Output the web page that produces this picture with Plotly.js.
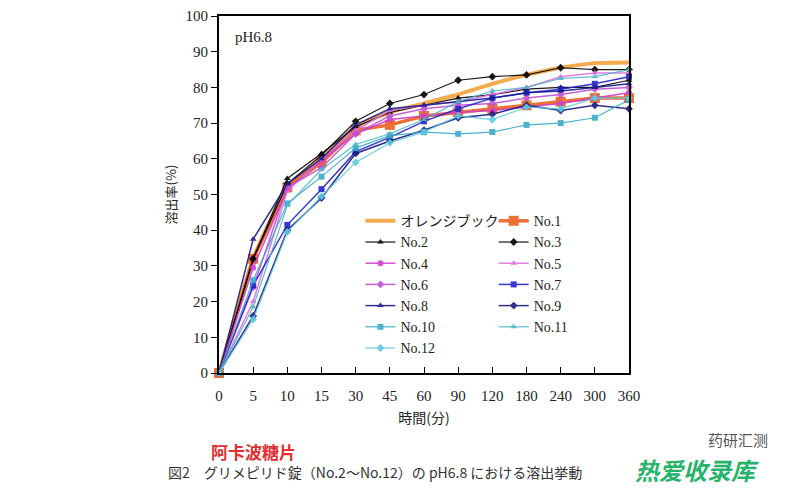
<!DOCTYPE html>
<html>
<head>
<meta charset="utf-8">
<script src="https://cdn.plot.ly/plotly-3.0.1.min.js"></script>
<style>html,body{margin:0;padding:0;background:#fff;}#chart{width:800px;height:489px;}</style>
</head>
<body>
<div id="chart"></div>
<script>
const timeLabels = ["0","5","10","15","30","45","60","90","120","180","240","300","360"];
const seriesNames = ["オレンジブック","No.1","No.2","No.3","No.4","No.5","No.6","No.7","No.8","No.9","No.10","No.11","No.12"];
const orangeBook = [0,32,52,60,69,73,75.5,78,81,83.5,85.5,86.8,87];
const no1  = [0,32,52,59,68,69.5,72,73,74,75,76,77,77];
const no2  = [0,32,54.5,61.5,69,73,75,77,78,79.5,80,80,82];
const no3  = [0,32,53,61,70.5,75.5,78,82,83,83.5,85.5,85,85];
const no4  = [0,29.5,51.5,59.5,67,71,72,73,73.5,74.5,75.5,77,78.5];
const no5  = [0,20,51,60,68,73.5,75,76,78,80,83,84,84];
const no6  = [0,24,52,57.5,67,72,74,75,75.5,77,78,79.5,80];
const no7  = [0,24.5,41.5,51.5,62,66,70.5,74,77,78.5,79.5,81,83];
const no8  = [0,37.5,53,60,69.5,74,75,76,77,78.5,79,80,81];
const no9  = [0,16,40,49,61.5,65,68,71.5,72.5,75,73.5,75,74];
const no10 = [0,26,47.5,55,63,66.5,67.5,67,67.5,69.5,70,71.5,76.5];
const no11 = [0,18.5,47,57,64,67,71,76,79,80,82.5,83,85];
const no12 = [0,15,39.5,49.5,59,64.5,67.5,72,71,74.5,74,77,77];

const allValues = [orangeBook,no1,no2,no3,no4,no5,no6,no7,no8,no9,no10,no11,no12];
const colors = ["#F2A33A","#E8621E","#000000","#000000","#D23CD2","#E070E0","#C050D0","#2323CC","#1A1A90","#1A1A80","#3AAAC8","#4CB8C8","#5CCBE0"];
const symbols = ["circle","square","triangle-up","diamond","circle","triangle-up","diamond","square","triangle-up","diamond","square","triangle-up","diamond"];
const widths = [4,3.5,1.2,1.2,1.5,1.5,1.5,1.5,1.5,1.5,1.2,1.2,1.2];
const msizes = [0,10,6,6,6,6,6,6,6,6,6,6,6];
const legendCol = ["legend","legend2","legend","legend2","legend","legend2","legend","legend2","legend","legend2","legend","legend2","legend"];

const traces = seriesNames.map((name,i)=>({
  type:"scatter",
  mode: i===0 ? "lines" : "lines+markers",
  x: timeLabels, y: allValues[i], name: name,
  legend: legendCol[i],
  cliponaxis:false,
  line:{color:colors[i], width:widths[i], shape: i===0 ? "spline" : "linear", smoothing:0.5},
  marker:{symbol:symbols[i], size:msizes[i], color:colors[i]},
  opacity: 0.9
}));

const serif = "'Liberation Serif', 'Times New Roman', 'DejaVu Serif', serif";
const legendBase = {
  font:{family:"'Liberation Serif', 'Noto Sans CJK JP', serif",size:14,color:"#222"},
  bgcolor:"rgba(0,0,0,0)",
  yanchor:"top", xanchor:"left",
  tracegroupgap:0, itemwidth:30,
  traceorder:"normal"
};

const layout = {
  width:800, height:489,
  margin:{l:219,r:171,t:16,b:116},
  paper_bgcolor:"#fff", plot_bgcolor:"#fff",
  showlegend:true,
  xaxis:{type:"category", range:[0,12], showgrid:false, zeroline:false,
    showline:true, linecolor:"#000", linewidth:2, mirror:true,
    ticks:"inside", ticklen:6, tickcolor:"#000", ticklabelstandoff:8,
    tickfont:{family:serif,size:15,color:"#222"},
    title:{text:"時間(分)", font:{family:"'Noto Sans CJK JP'",size:14,color:"#222"}, standoff:10}},
  yaxis:{range:[0,100], dtick:10, showgrid:false, zeroline:false,
    showline:true, linecolor:"#000", linewidth:2, mirror:true,
    ticks:"outside", ticklen:6, tickcolor:"#000",
    tickfont:{family:serif,size:15,color:"#222"},
    title:{text:"溶出率(%)", font:{family:"'Noto Sans CJK JP'",size:13,color:"#222"}, standoff:6}},
  legend: Object.assign({}, legendBase, {x:0.345, y:0.47}),
  legend2: Object.assign({}, legendBase, {x:0.67, y:0.47}),
  annotations:[
    {text:"pH6.8", xref:"paper", yref:"paper", x:0.035, y:0.97, xanchor:"left", yanchor:"top", showarrow:false, font:{family:serif,size:15,color:"#222"}},
    {text:"<b>阿卡波糖片</b>", xref:"paper", yref:"paper", x:-0.025, y:-0.221, xanchor:"left", yanchor:"middle", showarrow:false, font:{family:"'Noto Sans CJK SC'",size:17,color:"#E03030"}},
    {text:"図2　グリメピリド錠（No.2〜No.12）の pH6.8 における溶出挙動", xref:"paper", yref:"paper", x:-0.13, y:-0.277, xanchor:"left", yanchor:"middle", showarrow:false, font:{family:"'Noto Sans CJK JP'",size:14,color:"#333"}},
    {text:"药研汇测", xref:"paper", yref:"paper", x:1.266, y:-0.185, xanchor:"center", yanchor:"middle", showarrow:false, font:{family:"'Noto Sans CJK SC'",size:15,color:"#555"}},
    {text:"<b><i>热爱收录库</i></b>", xref:"paper", yref:"paper", x:1.166, y:-0.27, xanchor:"center", yanchor:"middle", showarrow:false, font:{family:"'Noto Sans CJK SC'",size:24,color:"#27B36A"}}
  ]
};

Plotly.newPlot("chart", traces, layout, {displayModeBar:false, staticPlot:true});
</script>
</body>
</html>
